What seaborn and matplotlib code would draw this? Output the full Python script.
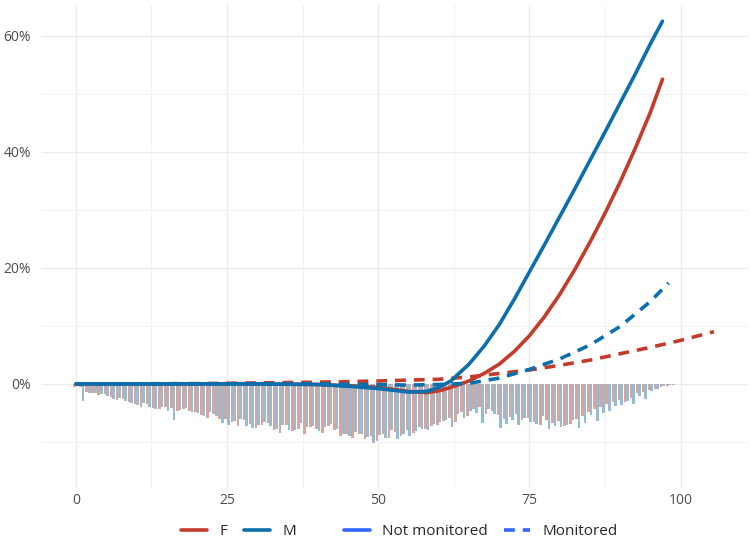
import pandas as pd
import numpy as np
import matplotlib
matplotlib.use("Agg")
import matplotlib.pyplot as plt
import seaborn as sns
from matplotlib.lines import Line2D
from matplotlib.ticker import PercentFormatter, FixedLocator

# ---- data ----
ages = list(range(0, 106))

# age distribution (share of population, %), drawn downwards
f_share = [0.5, 0.6, 1.4, 1.5, 1.9, 1.8, 2.2, 2.8, 2.6, 3.1,
           3.4, 3.9, 3.5, 4.1, 4.4, 3.9, 4.2, 4.7, 4.3, 4.6,
           4.9, 5.3, 5.8, 5.2, 6.1, 6.0, 6.6, 7.3, 6.2, 6.9,
           7.6, 7.1, 6.8, 7.9, 8.4, 7.0, 8.2, 7.7, 8.6, 7.5,
           7.8, 8.4, 7.3, 8.0, 8.9, 8.6, 9.3, 8.7, 9.5, 9.0,
           9.8, 8.6, 9.4, 8.3, 8.9, 7.9, 8.5, 7.4, 7.8, 7.2,
           7.0, 6.4, 5.8, 6.6, 4.9, 5.6, 4.4, 4.0, 5.2, 4.6,
           5.4, 6.0, 5.7, 5.1, 6.2, 5.9, 6.6, 7.1, 6.3, 6.8,
           6.4, 7.2, 6.9, 6.0, 5.5, 4.9, 4.4, 4.0, 3.5, 3.1,
           2.8, 3.2, 2.4, 1.6, 1.4, 1.1, 0.9, 0.5, 0.3, 0.15,
           0.05, 0.0, 0.08, 0.0, 0.0, 0.1]
m_share = [0.3, 2.9, 1.6, 1.5, 1.8, 2.0, 2.6, 2.4, 3.0, 3.3,
           3.6, 3.3, 4.0, 4.3, 3.9, 4.6, 6.3, 4.5, 4.2, 4.8,
           5.0, 5.5, 4.9, 5.6, 6.8, 7.0, 6.4, 6.0, 7.2, 7.6,
           7.0, 6.6, 7.3, 7.8, 7.1, 7.9, 8.0, 6.8, 7.5, 7.2,
           8.1, 7.4, 6.9, 7.8, 8.6, 9.0, 8.3, 8.7, 9.2, 10.1,
           8.8, 9.4, 8.0, 9.5, 8.7, 9.0, 8.2, 7.7, 8.0, 6.9,
           6.5, 6.3, 7.4, 5.2, 5.9, 4.6, 5.0, 6.8, 4.3, 5.1,
           7.6, 6.9, 6.3, 7.1, 5.8, 6.6, 6.9, 5.5, 7.8, 7.3,
           7.5, 7.0, 6.2, 7.6, 6.8, 5.4, 6.4, 5.0, 4.6, 3.8,
           3.6, 2.9, 3.4, 2.1, 2.6, 1.2, 0.8, 0.4, 0.2, 0.05,
           0.0, 0.0, 0.0, 0.0, 0.0, 0.0]

# curves (%)
f_nm_age = [0, 10, 20, 30, 40, 45, 50, 55, 58, 60, 62, 65, 67.5, 70, 72.5, 75, 77.5,
            80, 82.5, 85, 87.5, 90, 92.5, 95, 97]
f_nm_val = [0, 0, 0, 0, -0.1, -0.3, -0.6, -1.3, -1.5, -1.2, -0.6, 0.5, 1.8, 3.4, 5.6, 8.3, 11.6,
            15.4, 19.7, 24.4, 29.4, 34.8, 40.6, 46.8, 52.5]
m_nm_age = [0, 10, 20, 30, 40, 45, 50, 55, 58, 60, 62, 65, 67.5, 70, 72.5, 75, 77.5,
            80, 82.5, 85, 87.5, 90, 92.5, 95, 97]
m_nm_val = [0, 0, 0, 0, -0.1, -0.4, -0.8, -1.4, -1.3, -0.6, 0.5, 3.4, 6.5, 10.2, 14.6, 19.3, 24.0,
            28.8, 33.6, 38.5, 43.4, 48.4, 53.4, 58.6, 62.5]
f_mo_age = [0, 20, 40, 50, 60, 65, 70, 75, 80, 85, 90, 95, 100, 105.5]
f_mo_val = [0, 0.05, 0.3, 0.5, 0.8, 1.2, 1.8, 2.4, 3.2, 4.1, 5.2, 6.3, 7.5, 9.0]
m_mo_age = [0, 40, 55, 60, 65, 70, 75, 80, 85, 90, 95, 98]
m_mo_val = [0, 0, -0.2, -0.1, 0.1, 1.0, 2.5, 4.3, 6.7, 9.9, 14.2, 17.4]

sex_colors = {"F": "#C23B2B", "M": "#0B6FAD"}
bar_colors = {"F": "#E29C92", "M": "#8CBFDD"}

bars = pd.DataFrame({
    "age": ages * 2,
    "share": [-v for v in f_share] + [-v for v in m_share],
    "sex": ["F"] * len(ages) + ["M"] * len(ages),
})

parts = []
for sex, mon, a, v in [("F", "Not monitored", f_nm_age, f_nm_val),
                       ("M", "Not monitored", m_nm_age, m_nm_val),
                       ("F", "Monitored", f_mo_age, f_mo_val),
                       ("M", "Monitored", m_mo_age, m_mo_val)]:
    parts.append(pd.DataFrame({"age": a, "value": v, "sex": sex, "monitoring": mon}))
curves = pd.concat(parts, ignore_index=True)

# ---- plot ----
sns.set_theme(style="whitegrid")
plt.rcParams["font.family"] = ["Open Sans", "DejaVu Sans"]

fig, ax = plt.subplots(figsize=(7.5, 5.39), dpi=100)
fig.subplots_adjust(left=0.056, right=0.997, top=0.993, bottom=0.095)

sns.barplot(data=bars, x="age", y="share", hue="sex", palette=bar_colors,
            native_scale=True, dodge=True, width=0.85, legend=False,
            errorbar=None, linewidth=0, ax=ax, zorder=2)

dash = (3.0, 2.2)
sns.lineplot(data=curves, x="age", y="value", hue="sex", style="monitoring",
             palette=sex_colors, dashes={"Not monitored": "", "Monitored": dash},
             estimator=None, sort=True, linewidth=2.6, legend=False, ax=ax, zorder=3)

ax.set_xlim(-5.6, 111.1)
ax.set_ylim(-17.9, 65.5)
ax.set_xlabel("")
ax.set_ylabel("")
ax.xaxis.set_major_locator(FixedLocator([0, 25, 50, 75, 100]))
ax.xaxis.set_minor_locator(FixedLocator([-12.5, 12.5, 37.5, 62.5, 87.5, 112.5]))
ax.yaxis.set_major_locator(FixedLocator([0, 20, 40, 60]))
ax.yaxis.set_minor_locator(FixedLocator([-10, 10, 30, 50]))
ax.yaxis.set_major_formatter(PercentFormatter(decimals=0))
ax.set_xticklabels(["0", "25", "50", "75", "100"])

ax.grid(which="major", color="#EBEBEB", linewidth=1.0)
ax.grid(which="minor", color="#F2F2F2", linewidth=0.7)
ax.set_axisbelow(True)
for s in ax.spines.values():
    s.set_visible(False)
ax.tick_params(which="both", length=0, labelsize=10, labelcolor="#4D4D4D")
ax.tick_params(axis="x", pad=4)
ax.tick_params(axis="y", pad=8)

h1 = [Line2D([], [], color=sex_colors["F"], lw=2.6),
      Line2D([], [], color=sex_colors["M"], lw=2.6)]
fig.legend(h1, ["F", "M"], loc="center", bbox_to_anchor=(0.318, 0.013),
           ncol=2, frameon=False, fontsize=11, handlelength=1.7,
           handletextpad=0.8, columnspacing=1.1)
h2 = [Line2D([], [], color="#3366FF", lw=2.6),
      Line2D([], [], color="#3366FF", lw=2.6, linestyle=(0, dash))]
fig.legend(h2, ["Not monitored", "Monitored"], loc="center",
           bbox_to_anchor=(0.641, 0.013), ncol=2, frameon=False,
           fontsize=11, handlelength=1.7, handletextpad=0.8, columnspacing=1.1)

plt.savefig("out.png", dpi=100)
